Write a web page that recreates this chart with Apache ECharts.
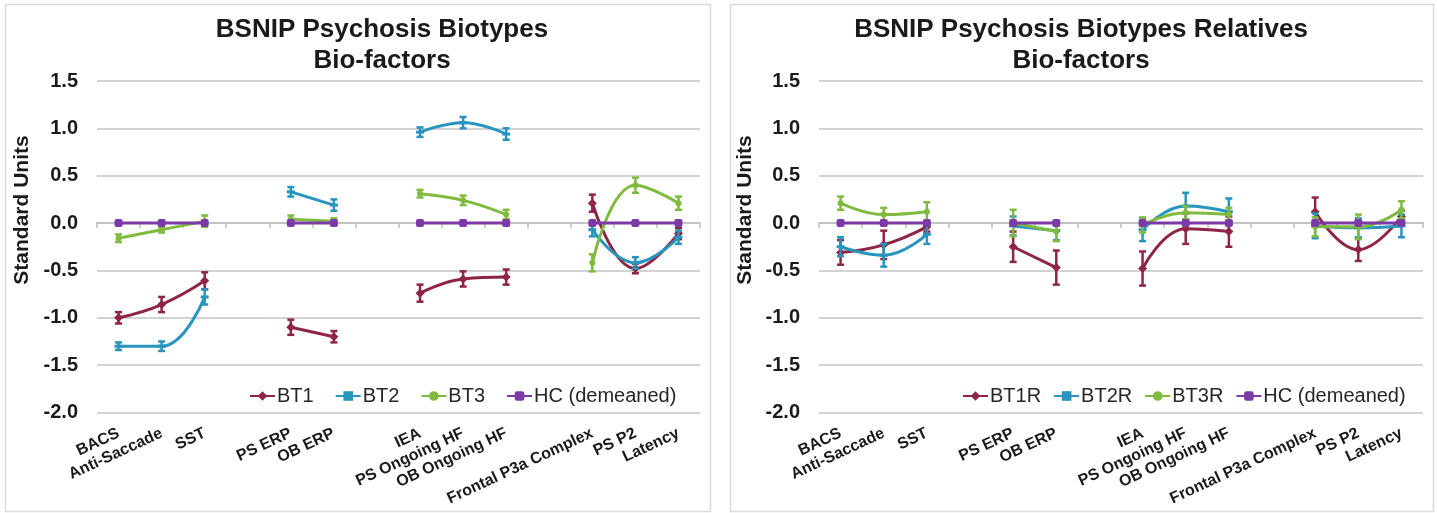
<!DOCTYPE html>
<html>
<head>
<meta charset="utf-8">
<script src="https://cdn.jsdelivr.net/npm/echarts@6/dist/echarts.min.js"></script>
<style>
  html, body { margin: 0; padding: 0; background: #ffffff; }
  #chart { width: 1437px; height: 513px; }
</style>
</head>
<body>
<div id="chart"></div>
<script>
// ---------- DATA ----------
const categories = ['BACS', 'Anti-Saccade', 'SST', ' ', 'PS ERP', 'OB ERP', '  ', 'IEA', 'PS Ongoing HF', 'OB Ongoing HF', '   ', 'Frontal P3a Complex', 'PS P2', 'Latency'];
const yTicks = { min: -2.0, max: 1.5, step: 0.5 };

// Left panel: probands
const bt1 = [-1.00, -0.86, -0.61, null, -1.10, -1.20, null, -0.74, -0.59, -0.57, null, 0.21, -0.48, -0.11];
const bt1Err = [0.06, 0.08, 0.09, null, 0.08, 0.06, null, 0.09, 0.08, 0.08, null, 0.09, 0.05, 0.06];
const bt2 = [-1.30, -1.30, -0.78, null, 0.33, 0.19, null, 0.96, 1.06, 0.94, null, -0.07, -0.42, -0.15];
const bt2Err = [0.04, 0.05, 0.08, null, 0.05, 0.06, null, 0.05, 0.06, 0.06, null, 0.07, 0.06, 0.07];
const bt3 = [-0.16, -0.07, 0.02, null, 0.04, 0.02, null, 0.31, 0.24, 0.09, null, -0.42, 0.40, 0.21];
const bt3Err = [0.04, 0.03, 0.06, null, 0.04, 0.03, null, 0.04, 0.05, 0.05, null, 0.09, 0.08, 0.07];
const hcLeft = [0, 0, 0, null, 0, 0, null, 0, 0, 0, null, 0, 0, 0];

// Right panel: relatives
const bt1r = [-0.31, -0.23, -0.04, null, -0.25, -0.47, null, -0.48, -0.06, -0.09, null, 0.12, -0.28, 0.07];
const bt1rErr = [0.13, 0.15, 0.05, null, 0.16, 0.18, null, 0.18, 0.16, 0.16, null, 0.15, 0.12, 0.06];
const bt2r = [-0.25, -0.34, -0.12, null, -0.03, -0.08, null, -0.07, 0.18, 0.12, null, -0.03, -0.05, -0.03];
const bt2rErr = [0.10, 0.12, 0.10, null, 0.10, 0.10, null, 0.12, 0.14, 0.14, null, 0.13, 0.10, 0.12];
const bt3r = [0.21, 0.09, 0.12, null, 0.00, -0.09, null, -0.02, 0.11, 0.09, null, -0.04, -0.04, 0.14];
const bt3rErr = [0.07, 0.07, 0.10, null, 0.14, 0.10, null, 0.08, 0.07, 0.07, null, 0.10, 0.13, 0.09];
const hcRight = [0, 0, 0, null, 0, 0, null, 0, 0, 0, null, 0, 0, 0];

// ---------- STYLE ----------
const C_RED = '#8f2545';
const C_BLUE = '#2795bd';
const C_GREEN = '#80bb40';
const C_PURPLE = '#7b3aa8';
const FONT = '"Liberation Sans", Arial, sans-serif';
const TEXT = '#1a1a1a';

const chart = echarts.init(document.getElementById('chart'), null, { renderer: 'canvas' });

function errData(vals, errs) {
  const out = [];
  vals.forEach((v, i) => { if (v !== null && errs[i] !== null) out.push([i, v - errs[i], v + errs[i]]); });
  return out;
}

function errSeries(vals, errs, color, gi, z) {
  return {
    type: 'custom',
    xAxisIndex: gi * 2,
    yAxisIndex: gi,
    z: z,
    silent: true,
    encode: { x: 0, y: [1, 2] },
    data: errData(vals, errs),
    renderItem: function (params, api) {
      const x = api.value(0);
      const lo = api.coord([x, api.value(1)]);
      const hi = api.coord([x, api.value(2)]);
      const hw = 3.5;
      const st = { stroke: color, lineWidth: 2.5 };
      return {
        type: 'group',
        children: [
          { type: 'line', shape: { x1: lo[0], y1: lo[1], x2: hi[0], y2: hi[1] }, style: st },
          { type: 'line', shape: { x1: lo[0] - hw, y1: lo[1], x2: lo[0] + hw, y2: lo[1] }, style: st },
          { type: 'line', shape: { x1: hi[0] - hw, y1: hi[1], x2: hi[0] + hw, y2: hi[1] }, style: st }
        ]
      };
    }
  };
}

function lineSeries(name, vals, color, symbol, size, gi, z) {
  return {
    name: name,
    type: 'line',
    xAxisIndex: gi * 2,
    yAxisIndex: gi,
    data: vals.map(v => (v === null ? '-' : v)),
    smooth: 0.45,
    connectNulls: false,
    symbol: symbol,
    symbolSize: size,
    showSymbol: symbol !== 'none',
    z: z,
    lineStyle: { color: color, width: 3 },
    itemStyle: { color: color, borderWidth: 0 },
    emphasis: { disabled: true },
    animation: false
  };
}

function xAxesFor(gi) {
  return [
    {
      gridIndex: gi, type: 'category', data: categories, position: 'bottom', boundaryGap: true,
      axisLine: { show: true, onZero: true, lineStyle: { color: '#bdbdbd', width: 1.5 } },
      axisTick: { show: true, length: 5, interval: 0, lineStyle: { color: '#bdbdbd', width: 1.5 } },
      axisLabel: { show: false },
      splitLine: { show: false }
    },
    {
      gridIndex: gi, type: 'category', data: categories, position: 'bottom', boundaryGap: true,
      axisLine: { show: false, onZero: false },
      axisTick: { show: false },
      axisLabel: { show: true, interval: 0, rotate: 25, margin: 20, fontSize: 16, fontWeight: 'bold', fontFamily: FONT, color: TEXT },
      splitLine: { show: false }
    }
  ];
}

function yAxisFor(gi) {
  return {
    gridIndex: gi, type: 'value', min: yTicks.min, max: yTicks.max, interval: yTicks.step,
    axisLine: { show: false }, axisTick: { show: false },
    axisLabel: { formatter: v => v.toFixed(1), fontSize: 20, fontWeight: 'bold', fontFamily: FONT, color: TEXT, margin: 19 },
    splitLine: { show: true, lineStyle: { color: '#c3c3c3', width: 1.5 } }
  };
}

const option = {
  backgroundColor: '#ffffff',
  animation: false,
  grid: [
    { left: 97, top: 81, width: 603, height: 331.5, containLabel: false },
    { left: 819, top: 81, width: 604, height: 331.5, containLabel: false }
  ],
  xAxis: [...xAxesFor(0), ...xAxesFor(1)],
  yAxis: [yAxisFor(0), yAxisFor(1)],
  legend: [
    {
      data: ['BT1', 'BT2', 'BT3', 'HC (demeaned)'],
      left: 244, top: 381, itemWidth: 25, itemHeight: 12, itemGap: 21,
      selectedMode: false,
      textStyle: { fontSize: 20, fontFamily: FONT, color: '#262626', padding: [0, 0, 0, -3] }
    },
    {
      data: ['BT1R', 'BT2R', 'BT3R', 'HC (demeaned)'],
      left: 957, top: 381, itemWidth: 25, itemHeight: 12, itemGap: 12,
      selectedMode: false,
      textStyle: { fontSize: 20, fontFamily: FONT, color: '#262626', padding: [0, 0, 0, -3] }
    }
  ],
  graphic: [
    { type: 'rect', shape: { x: 5.5, y: 4.5, width: 705, height: 507 }, style: { fill: 'none', stroke: '#dadada', lineWidth: 1.5 }, silent: true, z: -10 },
    { type: 'rect', shape: { x: 730.5, y: 4.5, width: 703, height: 507 }, style: { fill: 'none', stroke: '#dadada', lineWidth: 1.5 }, silent: true, z: -10 },
    { type: 'text', x: 382, y: 14, style: { text: 'BSNIP Psychosis Biotypes\nBio-factors', align: 'center', verticalAlign: 'top', font: 'bold 26px ' + FONT, lineHeight: 31, fill: TEXT } },
    { type: 'text', x: 1081, y: 14, style: { text: 'BSNIP Psychosis Biotypes Relatives\nBio-factors', align: 'center', verticalAlign: 'top', font: 'bold 26px ' + FONT, lineHeight: 31, fill: TEXT } },
    { type: 'text', x: 22, y: 210, rotation: Math.PI / 2, style: { text: 'Standard Units', align: 'center', verticalAlign: 'middle', font: 'bold 21px ' + FONT, fill: TEXT } },
    { type: 'text', x: 745, y: 210, rotation: Math.PI / 2, style: { text: 'Standard Units', align: 'center', verticalAlign: 'middle', font: 'bold 21px ' + FONT, fill: TEXT } }
  ],
  series: [
    // left panel
    lineSeries('BT1', bt1, C_RED, 'diamond', 9, 0, 2),
    errSeries(bt1, bt1Err, C_RED, 0, 3),
    lineSeries('BT2', bt2, C_BLUE, 'rect', [8, 3], 0, 4),
    errSeries(bt2, bt2Err, C_BLUE, 0, 5),
    lineSeries('BT3', bt3, C_GREEN, 'circle', 6, 0, 6),
    errSeries(bt3, bt3Err, C_GREEN, 0, 7),
    lineSeries('HC (demeaned)', hcLeft, C_PURPLE, 'roundRect', 8, 0, 8),
    // right panel
    lineSeries('BT1R', bt1r, C_RED, 'diamond', 9, 1, 2),
    errSeries(bt1r, bt1rErr, C_RED, 1, 3),
    lineSeries('BT2R', bt2r, C_BLUE, 'rect', [8, 3], 1, 4),
    errSeries(bt2r, bt2rErr, C_BLUE, 1, 5),
    lineSeries('BT3R', bt3r, C_GREEN, 'circle', 6, 1, 6),
    errSeries(bt3r, bt3rErr, C_GREEN, 1, 7),
    lineSeries('HC (demeaned)', hcRight, C_PURPLE, 'roundRect', 8, 1, 8)
  ]
};

chart.setOption(option);
</script>
</body>
</html>
